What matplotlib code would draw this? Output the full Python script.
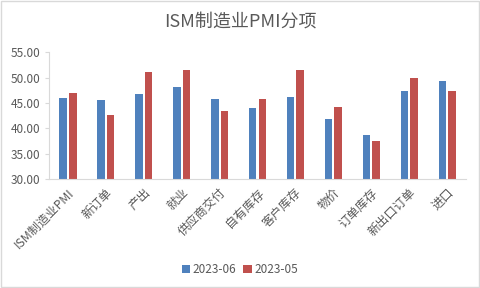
import matplotlib
matplotlib.use("Agg")
import matplotlib.pyplot as plt
import numpy as np

plt.rcParams['font.family'] = ['Noto Sans CJK SC', 'DejaVu Sans']

categories = ['ISM制造业PMI', '新订单', '产出', '就业', '供应商交付', '自有库存',
              '客户库存', '物价', '订单库存', '新出口订单', '进口']
jun = [46.0, 45.6, 46.7, 48.1, 45.7, 44.0, 46.2, 41.8, 38.7, 47.3, 49.3]
may = [46.9, 42.6, 51.1, 51.4, 43.5, 45.8, 51.4, 44.2, 37.5, 50.0, 47.3]
labels = ['2023-06', '2023-05']

txt = '#595959'
fig = plt.figure(figsize=(4.8, 2.88), dpi=100)
ax = fig.add_axes([0.102, 0.378, 0.869, 0.441])

x = np.arange(len(categories))
w = 0.2
ax.bar(x - 0.127, jun, w, color='#4F81BD', label=labels[0])
ax.bar(x + 0.127, may, w, color='#C0504D', label=labels[1])

ax.set_ylim(30, 55)
ax.set_yticks(np.arange(30, 56, 5))
ax.set_yticklabels([f'{v:.2f}' for v in np.arange(30, 56, 5)])
ax.set_xlim(-0.5, len(categories) - 0.5)
ax.set_xticks(x)
ax.set_xticklabels(categories, rotation=45, ha='right', rotation_mode='anchor')

for s in ['top', 'right']:
    ax.spines[s].set_visible(False)
for s in ['left', 'bottom']:
    ax.spines[s].set_color('#D9D9D9')
ax.tick_params(axis='y', colors='#D9D9D9', labelcolor=txt, labelsize=8.5, length=3)
ax.tick_params(axis='x', length=0, labelcolor=txt, labelsize=8.8, pad=5)

fig.text(0.5, 0.925, 'ISM制造业PMI分项', ha='center', va='center', fontsize=13, color=txt)
fig.legend(loc='center', bbox_to_anchor=(0.5, 0.065), ncol=2, frameon=False,
           fontsize=8.5, labelcolor=txt, handlelength=0.7, handleheight=0.7,
           handletextpad=0.2, columnspacing=0.6)

fig.patches.append(plt.Rectangle((0.002, 0.003), 0.995, 0.994, transform=fig.transFigure,
                                 fill=False, edgecolor='#D9D9D9', linewidth=1))
fig.savefig('out.png', dpi=100)
